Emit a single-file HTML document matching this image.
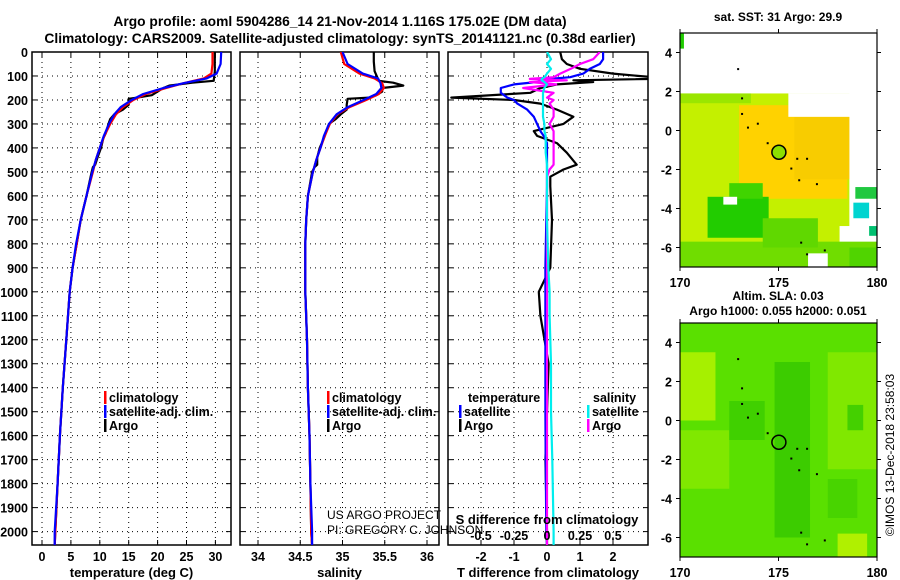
<!DOCTYPE html>
<html><head><meta charset="utf-8">
<style>
html,body{margin:0;padding:0;background:#fff;}
svg{display:block;font-family:"Liberation Sans",Arial,sans-serif;font-weight:bold;}
</style></head>
<body>
<svg id="fig" width="900" height="580" viewBox="0 0 900 580" xmlns="http://www.w3.org/2000/svg">
<defs>
<clipPath id="clipT"><rect x="32" y="52" width="199" height="493"/></clipPath>
<clipPath id="clipS"><rect x="240" y="52" width="199" height="493"/></clipPath>
<clipPath id="clipD"><rect x="448" y="52" width="200" height="493"/></clipPath>
</defs>
<text x="340" y="26" font-size="13.8" text-anchor="middle">Argo profile: aoml 5904286_14 21-Nov-2014 1.116S 175.02E (DM data)</text>
<text x="340" y="43" font-size="13.8" text-anchor="middle">Climatology: CARS2009. Satellite-adjusted climatology: synTS_20141121.nc (0.38d earlier)</text>
<g id="maps"></g>
<g id="panels"></g>
<text transform="translate(894,455) rotate(-90)" font-size="12" font-weight="normal" text-anchor="middle">©IMOS 13-Dec-2018 23:58:03</text>
</svg>
<script>
// ---------- data ----------
const depthTicks = [0,100,200,300,400,500,600,700,800,900,1000,1100,1200,1300,1400,1500,1600,1700,1800,1900,2000];
const tempTicks = [0,5,10,15,20,25,30];
const salTicks = [34,34.5,35,35.5,36];
const salTickLabels = ["34","34.5","35","35.5","36"];
const tdiffTicks = [-2,-1,0,1,2];
const sdiffTicks = [-0.5,-0.25,0,0.25,0.5];
const sdiffTickLabels = ["-0.5","-0.25","0","0.25","0.5"];

const climDepth = [0,50,90,110,130,150,175,200,230,260,300,350,400,450,500,600,700,800,900,1000,1100,1200,1400,1600,1800,2000,2060];
const climTemp  = [29.5,29.5,29.3,28.0,24.5,21.5,18.0,15.8,14.0,12.8,11.8,10.8,10.0,9.3,8.8,7.7,6.7,6.0,5.3,4.8,4.5,4.2,3.6,3.1,2.7,2.3,2.2];
const satTemp   = [31.0,30.9,30.2,28.5,24.5,21.0,17.5,15.5,13.6,12.5,11.6,10.7,10.0,9.3,8.7,7.7,6.7,5.9,5.3,4.8,4.5,4.2,3.6,3.1,2.7,2.2,2.2];
const climSal   = [34.98,35.02,35.2,35.38,35.47,35.49,35.43,35.28,35.08,34.94,34.85,34.79,34.74,34.69,34.65,34.59,34.57,34.56,34.56,34.56,34.57,34.58,34.59,34.61,34.62,34.63,34.64];
const satSal    = [35.0,35.06,35.24,35.42,35.45,35.46,35.4,35.25,35.06,34.93,34.84,34.78,34.74,34.69,34.65,34.59,34.57,34.56,34.56,34.56,34.57,34.58,34.59,34.61,34.62,34.64,34.64];

const argoDepth = [0,40,80,120,128,140,150,165,180,190,195,220,240,260,280,300,340,360,400,440,470,480,500,600,700,800,900,1000,1200,1400,1600,1800,2000,2060];
const argoTemp  = [29.9,29.9,29.9,29.7,26.0,22.0,21.0,20.0,19.0,16.5,15.0,15.0,14.0,12.5,11.8,11.5,11.0,10.6,10.2,9.6,9.2,8.8,8.6,7.7,6.7,6.0,5.3,4.8,4.2,3.6,3.1,2.7,2.3,2.2];
const argoSal   = [35.37,35.37,35.38,35.43,35.6,35.72,35.47,35.47,35.4,35.32,35.06,35.05,35.05,34.98,34.92,34.84,34.8,34.78,34.73,34.7,34.7,34.67,34.64,34.59,34.57,34.56,34.56,34.56,34.58,34.59,34.61,34.62,34.63,34.64];

const tdDepth   = [0,30,50,70,90,105,112,118,125,135,150,170,190,200,215,240,270,300,330,350,380,420,470,490,520,560,700,900,1000,1100,1300,1500,1700,2000,2060];
const tdArgo    = [0.4,0.45,0.6,1.0,2.0,3.2,3.2,0.8,1.4,0.3,-0.2,-0.5,-2.9,-1.0,-0.2,0.3,0.8,0.5,-0.4,-0.3,0.3,0.6,0.9,0.5,0.1,0.1,0.15,0.1,-0.25,-0.2,0.05,0.0,-0.05,0.0,0.0];
const tdSat     = [1.7,1.7,1.6,1.3,1.1,0.7,0.1,-0.2,-0.3,-1.0,-1.4,-1.4,-1.2,-1.0,-0.9,-0.6,-0.4,-0.3,-0.2,-0.1,0.0,0.0,0.0,0.0,0.0,0.0,-0.02,-0.05,-0.05,-0.05,-0.05,-0.05,-0.04,-0.02,0.0];
const sdArgo    = [0.4,0.35,0.25,0.18,0.1,0.05,-0.13,0.15,-0.13,0.07,-0.18,0.05,0.0,0.05,0.02,0.05,0.05,0.02,0.05,0.05,0.05,0.05,0.05,0.02,0.0,0.0,0.0,0.0,0.0,0.0,0.0,0.0,0.0,0.0,0.0];
const sdSat     = [0.0,0.03,0.0,0.03,0.0,-0.02,-0.04,-0.04,-0.02,0.0,-0.02,-0.03,-0.03,-0.03,-0.03,-0.03,-0.03,-0.02,-0.02,-0.01,-0.01,-0.01,0.0,0.0,0.0,0.0,0.0,0.01,0.02,0.02,0.03,0.03,0.04,0.05,0.05];

// ---------- helpers ----------
const NS = "http://www.w3.org/2000/svg";
function mk(tag, attrs, parent){const e=document.createElementNS(NS,tag);for(const k in attrs)e.setAttribute(k,attrs[k]);parent.appendChild(e);return e;}
const Y0=52, PXM=0.2398, YB=545;
const yD = d => Y0 + d*PXM;
const panelsG = document.getElementById('panels');

function panel(x0,x1,xs,xticks,xlabels,title,name){
  const g = mk('g',{},panelsG);
  
  
  xticks.forEach(v=>{const x=xs(v);mk('line',{x1:x,x2:x,y1:Y0,y2:YB,stroke:'#000','stroke-width':1,'stroke-dasharray':'1,4'},g);});
  depthTicks.forEach(d=>{const y=yD(d);mk('line',{x1:x0,x2:x1,y1:y,y2:y,stroke:'#000','stroke-width':1,'stroke-dasharray':'1,4'},g);});
  xticks.forEach((v,i)=>{const x=xs(v);mk('line',{x1:x,x2:x,y1:YB,y2:YB-5,stroke:'#000'},g);mk('line',{x1:x,x2:x,y1:Y0,y2:Y0+5,stroke:'#000'},g);
    const t=mk('text',{x:x,y:561,'font-size':12.5,'text-anchor':'middle'},g);t.textContent=xlabels[i];
    
    });
  depthTicks.forEach(d=>{const y=yD(d);mk('line',{x1:x0,x2:x0+5,y1:y,y2:y,stroke:'#000'},g);mk('line',{x1:x1,x2:x1-5,y1:y,y2:y,stroke:'#000'},g);});
  mk('rect',{x:x0,y:Y0,width:x1-x0,height:YB-Y0,fill:'none',stroke:'#000','stroke-width':1.5},g);
  const tt=mk('text',{x:(x0+x1)/2,y:577,'font-size':13,'text-anchor':'middle'},g);tt.textContent=title;
  
  
  return g;
}
function line(g,xs,vals,depths,color,name,clip){
  let d='';vals.forEach((v,i)=>{d+=(i?'L':'M')+xs(v).toFixed(1)+','+yD(depths[i]).toFixed(1);});
  const p=mk('path',{d:d,fill:'none',stroke:color,'stroke-width':2.2,'stroke-linejoin':'round','clip-path':'url(#'+clip+')'},g);
  
  
}
function txt(g,x,y,s,name,opts){const t=mk('text',Object.assign({x:x,y:y,'font-size':12.5},opts||{}),g);t.textContent=s;
  
  return t;}
function legend(g,x,y,color,label){mk('rect',{x:x,y:y-11,width:2.5,height:13,fill:color},g);
  txt(g,x+5,y,label,'legend-entry');}

const dl = mk('g',{},panelsG);


depthTicks.forEach(d=>{const t=mk('text',{x:28,y:yD(d)+5,'font-size':12.5,'text-anchor':'end'},dl);t.textContent=String(d);
  
  });

// panel 1: temperature
const xT = v => 42 + v*5.78;
const g1 = panel(32,231,xT,tempTicks,tempTicks.map(String),'temperature (deg C)','temperature-panel');
line(g1,xT,argoTemp,argoDepth,'#000','argo-temperature-line','clipT');
line(g1,xT,climTemp,climDepth,'#f00','climatology-temperature-line','clipT');
line(g1,xT,satTemp,climDepth,'#00f','satellite-temperature-line','clipT');
legend(g1,104,402,'#f00','climatology');
legend(g1,104,416,'#00f','satellite-adj. clim.');
legend(g1,104,430,'#000','Argo');

// panel 2: salinity
const xS = v => 258 + (v-34)*84.5;
const g2 = panel(240,439,xS,salTicks,salTickLabels,'salinity','salinity-panel');
line(g2,xS,argoSal,argoDepth,'#000','argo-salinity-line','clipS');
line(g2,xS,climSal,climDepth,'#f00','climatology-salinity-line','clipS');
line(g2,xS,satSal,climDepth,'#00f','satellite-salinity-line','clipS');
legend(g2,327,402,'#f00','climatology');
legend(g2,327,416,'#00f','satellite-adj. clim.');
legend(g2,327,430,'#000','Argo');
txt(g2,327,519,'US ARGO PROJECT','credit-project',{'font-weight':'normal','font-size':12});
txt(g2,327,534,'PI: GREGORY C. JOHNSON','credit-pi',{'font-weight':'normal','font-size':12});

// panel 3: differences
const xTD = v => 547 + v*33;
const xSD = v => 547 + v*132;
const g3 = panel(448,648,xTD,tdiffTicks,tdiffTicks.map(String),'T difference from climatology','difference-panel');
line(g3,xTD,tdArgo,tdDepth,'#000','argo-t-diff-line','clipD');
line(g3,xTD,tdSat,tdDepth,'#00f','satellite-t-diff-line','clipD');
line(g3,xSD,sdArgo,tdDepth,'#f0f','argo-s-diff-line','clipD');
line(g3,xSD,sdSat,tdDepth,'#0ee','satellite-s-diff-line','clipD');
txt(g3,468,402,'temperature','legend-heading-temperature');
legend(g3,459,416,'#00f','satellite');
legend(g3,459,430,'#000','Argo');
txt(g3,593,402,'salinity','legend-heading-salinity');
legend(g3,587,416,'#0ee','satellite');
legend(g3,587,430,'#f0f','Argo');
txt(g3,547,524,'S difference from climatology','s-diff-axis-title',{'text-anchor':'middle','font-size':13});
sdiffTicks.forEach((v,i)=>{txt(g3,xSD(v),540,sdiffTickLabels[i],'s-diff-tick-label',{'text-anchor':'middle'});});

// ---------- maps ----------
const mapsG = document.getElementById('maps');
function mapFrame(y0,y1,name,cells,title1,title2){
  const g = mk('g',{},mapsG);
  
  
  const X0=680,X1=877;
  const lx = lon => X0 + (lon-170)*19.7;
  const ly = lat => y0 + (5-lat)*(y1-y0)/12;
  cells(g,lx,ly);
  [[172.9,3.2],[173.1,1.7],[173.1,0.9],[173.4,0.2],[173.9,0.4],[174.4,-0.6],[175.9,-1.4],[176.4,-1.4],[175.6,-1.9],[176.0,-2.5],[176.9,-2.7],[176.1,-5.7],[176.4,-6.3],[177.3,-6.1]].forEach(p=>{
    mk('rect',{x:lx(p[0]),y:ly(p[1]),width:2,height:2,fill:'#000'},g);});
  mk('circle',{cx:lx(175.02),cy:ly(-1.116),r:7,fill:name==='sst-map'?'#8ce000':'none',stroke:'#000','stroke-width':1.5},g);
  mk('rect',{x:X0,y:y0,width:X1-X0,height:y1-y0,fill:'none',stroke:'#000','stroke-width':1.2},g);
  [4,2,0,-2,-4,-6].forEach(l=>{const y=ly(l);mk('line',{x1:X0-4,x2:X0,y1:y,y2:y,stroke:'#000'},g);mk('line',{x1:X1,x2:X1+4,y1:y,y2:y,stroke:'#000'},g);
    txt(g,X0-8,y+5,String(l),'map-lat-label',{'text-anchor':'end'});});
  [170,175,180].forEach(l=>{const x=lx(l);mk('line',{x1:x,x2:x,y1:y1,y2:y1+4,stroke:'#000'},g);mk('line',{x1:x,x2:x,y1:y0-4,y2:y0,stroke:'#000'},g);
    txt(g,x,y1+20,String(l),'map-lon-label',{'text-anchor':'middle'});});
  if(title2){txt(g,778,y0-23,title1,'map-title',{'text-anchor':'middle','font-size':12});txt(g,778,y0-8,title2,'map-subtitle',{'text-anchor':'middle','font-size':12});}
  else txt(g,778,y0-12,title1,'map-title',{'text-anchor':'middle','font-size':12});
}
function R(g,lx,ly,a,b,c,d,f){mk('rect',{x:lx(a),y:ly(d),width:lx(b)-lx(a),height:ly(c)-ly(d),fill:f},g);}
mapFrame(33,267,'sst-map',(g,lx,ly)=>{
  R(g,lx,ly,170,170.2,4.2,5,'#20cc00');
  R(g,lx,ly,170,178.6,-7,1.9,'#c4f000');
  R(g,lx,ly,173,178.5,-3.5,1.3,'#ffd200');
  R(g,lx,ly,175.8,179,-2.5,0.7,'#f8cc00');
  R(g,lx,ly,178.1,180,-7,-4.9,'#ffffff');
  R(g,lx,ly,178.6,180,-7,1.9,'#ffffff');
  R(g,lx,ly,175.5,180,0.7,1.9,'#ffffff');
  R(g,lx,ly,170,173.6,1.4,1.9,'#9ae600');
  R(g,lx,ly,171.4,174.5,-5.5,-3.4,'#22cc00');
  R(g,lx,ly,172.5,174.2,-3.5,-2.7,'#40d400');
  R(g,lx,ly,170,180,-7,-5.7,'#70dd00');
  R(g,lx,ly,174.2,177,-6,-4.5,'#60d800');
  R(g,lx,ly,176.5,177.5,-7,-6.3,'#ffffff');
  R(g,lx,ly,178.6,180,-7,-6,'#50d400');
  R(g,lx,ly,178.8,179.6,-4.5,-3.7,'#00d4d0');
  R(g,lx,ly,178.9,180,-3.5,-2.9,'#20c840');
  R(g,lx,ly,179.6,180,-5.4,-4.9,'#00c070');
  R(g,lx,ly,176,176.5,0.6,0.2,'#20c800');
  R(g,lx,ly,172.2,172.9,-3.8,-3.4,'#ffffff');
},'sat. SST: 31 Argo: 29.9');
mapFrame(323,557,'sla-map',(g,lx,ly)=>{
  R(g,lx,ly,170,180,-7,5,'#5ae000');
  R(g,lx,ly,170,171.8,0,3.5,'#a6f000');
  R(g,lx,ly,170,172.5,-3.5,-0.5,'#80e800');
  R(g,lx,ly,177.5,180,-2.5,3.5,'#80e800');
  R(g,lx,ly,178,179.5,-7,-5.8,'#b0f000');
  R(g,lx,ly,174.8,176.6,-6,3,'#3ccc00');
  R(g,lx,ly,172.5,174.3,-1,1,'#40d000');
  R(g,lx,ly,177.5,179,-5,-3,'#48d400');
  R(g,lx,ly,178.5,179.3,-0.5,0.8,'#44d000');
},'Altim. SLA: 0.03','Argo h1000: 0.055 h2000: 0.051');
</script>
</body></html>
